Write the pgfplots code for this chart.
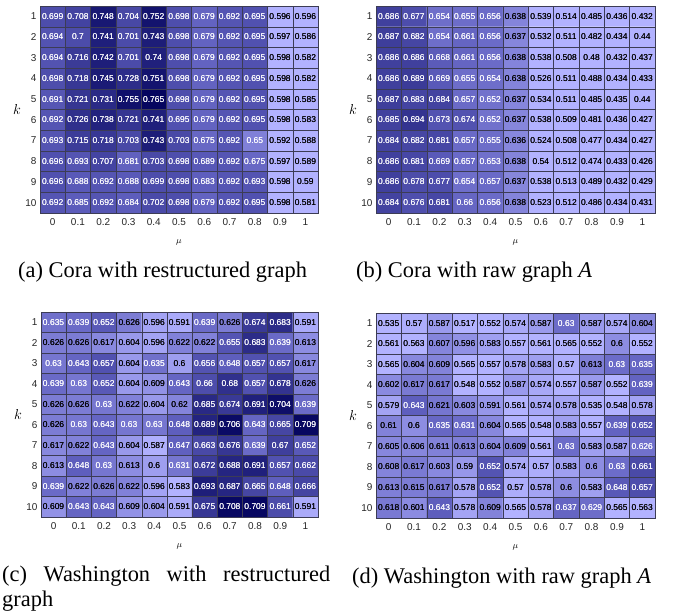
\documentclass[border=0pt]{standalone}
\usepackage{fontspec}
\setmainfont{Liberation Sans}
\newfontfamily\capfont{Liberation Serif}
\usepackage{pgfplots}
\usepackage{pgfplotstable}
\pgfplotsset{compat=1.18}
\definecolor{gridc}{RGB}{60,60,85}

% (a) Cora, restructured graph
\pgfplotstableread[row sep=\\]{x y c\\
0 1 0.699\\ 0.1 1 0.708\\ 0.2 1 0.748\\ 0.3 1 0.704\\ 0.4 1 0.752\\ 0.5 1 0.698\\ 0.6 1 0.679\\ 0.7 1 0.692\\ 0.8 1 0.695\\ 0.9 1 0.596\\ 1 1 0.596\\
0 2 0.694\\ 0.1 2 0.7\\ 0.2 2 0.741\\ 0.3 2 0.701\\ 0.4 2 0.743\\ 0.5 2 0.698\\ 0.6 2 0.679\\ 0.7 2 0.692\\ 0.8 2 0.695\\ 0.9 2 0.597\\ 1 2 0.586\\
0 3 0.694\\ 0.1 3 0.716\\ 0.2 3 0.742\\ 0.3 3 0.701\\ 0.4 3 0.74\\ 0.5 3 0.698\\ 0.6 3 0.679\\ 0.7 3 0.692\\ 0.8 3 0.695\\ 0.9 3 0.598\\ 1 3 0.582\\
0 4 0.698\\ 0.1 4 0.718\\ 0.2 4 0.745\\ 0.3 4 0.728\\ 0.4 4 0.751\\ 0.5 4 0.698\\ 0.6 4 0.679\\ 0.7 4 0.692\\ 0.8 4 0.695\\ 0.9 4 0.598\\ 1 4 0.582\\
0 5 0.691\\ 0.1 5 0.721\\ 0.2 5 0.731\\ 0.3 5 0.755\\ 0.4 5 0.765\\ 0.5 5 0.698\\ 0.6 5 0.679\\ 0.7 5 0.692\\ 0.8 5 0.695\\ 0.9 5 0.598\\ 1 5 0.585\\
0 6 0.692\\ 0.1 6 0.726\\ 0.2 6 0.738\\ 0.3 6 0.721\\ 0.4 6 0.741\\ 0.5 6 0.695\\ 0.6 6 0.679\\ 0.7 6 0.692\\ 0.8 6 0.695\\ 0.9 6 0.598\\ 1 6 0.583\\
0 7 0.693\\ 0.1 7 0.715\\ 0.2 7 0.718\\ 0.3 7 0.703\\ 0.4 7 0.743\\ 0.5 7 0.703\\ 0.6 7 0.675\\ 0.7 7 0.692\\ 0.8 7 0.65\\ 0.9 7 0.592\\ 1 7 0.588\\
0 8 0.696\\ 0.1 8 0.693\\ 0.2 8 0.707\\ 0.3 8 0.681\\ 0.4 8 0.703\\ 0.5 8 0.698\\ 0.6 8 0.689\\ 0.7 8 0.692\\ 0.8 8 0.675\\ 0.9 8 0.597\\ 1 8 0.589\\
0 9 0.696\\ 0.1 9 0.688\\ 0.2 9 0.692\\ 0.3 9 0.688\\ 0.4 9 0.699\\ 0.5 9 0.698\\ 0.6 9 0.683\\ 0.7 9 0.692\\ 0.8 9 0.693\\ 0.9 9 0.598\\ 1 9 0.59\\
0 10 0.692\\ 0.1 10 0.685\\ 0.2 10 0.692\\ 0.3 10 0.684\\ 0.4 10 0.702\\ 0.5 10 0.698\\ 0.6 10 0.679\\ 0.7 10 0.692\\ 0.8 10 0.695\\ 0.9 10 0.598\\ 1 10 0.581\\
}\tabA

% (b) Cora, raw graph A
\pgfplotstableread[row sep=\\]{x y c\\
0 1 0.686\\ 0.1 1 0.677\\ 0.2 1 0.654\\ 0.3 1 0.655\\ 0.4 1 0.656\\ 0.5 1 0.638\\ 0.6 1 0.539\\ 0.7 1 0.514\\ 0.8 1 0.485\\ 0.9 1 0.436\\ 1 1 0.432\\
0 2 0.687\\ 0.1 2 0.682\\ 0.2 2 0.654\\ 0.3 2 0.661\\ 0.4 2 0.656\\ 0.5 2 0.637\\ 0.6 2 0.532\\ 0.7 2 0.511\\ 0.8 2 0.482\\ 0.9 2 0.434\\ 1 2 0.44\\
0 3 0.686\\ 0.1 3 0.686\\ 0.2 3 0.668\\ 0.3 3 0.661\\ 0.4 3 0.656\\ 0.5 3 0.638\\ 0.6 3 0.538\\ 0.7 3 0.508\\ 0.8 3 0.48\\ 0.9 3 0.432\\ 1 3 0.437\\
0 4 0.686\\ 0.1 4 0.689\\ 0.2 4 0.669\\ 0.3 4 0.655\\ 0.4 4 0.654\\ 0.5 4 0.638\\ 0.6 4 0.526\\ 0.7 4 0.511\\ 0.8 4 0.488\\ 0.9 4 0.434\\ 1 4 0.433\\
0 5 0.687\\ 0.1 5 0.683\\ 0.2 5 0.684\\ 0.3 5 0.657\\ 0.4 5 0.652\\ 0.5 5 0.637\\ 0.6 5 0.534\\ 0.7 5 0.511\\ 0.8 5 0.485\\ 0.9 5 0.435\\ 1 5 0.44\\
0 6 0.685\\ 0.1 6 0.694\\ 0.2 6 0.673\\ 0.3 6 0.674\\ 0.4 6 0.652\\ 0.5 6 0.637\\ 0.6 6 0.538\\ 0.7 6 0.509\\ 0.8 6 0.481\\ 0.9 6 0.436\\ 1 6 0.427\\
0 7 0.684\\ 0.1 7 0.682\\ 0.2 7 0.681\\ 0.3 7 0.657\\ 0.4 7 0.655\\ 0.5 7 0.636\\ 0.6 7 0.524\\ 0.7 7 0.508\\ 0.8 7 0.477\\ 0.9 7 0.434\\ 1 7 0.427\\
0 8 0.686\\ 0.1 8 0.681\\ 0.2 8 0.669\\ 0.3 8 0.657\\ 0.4 8 0.653\\ 0.5 8 0.638\\ 0.6 8 0.54\\ 0.7 8 0.512\\ 0.8 8 0.474\\ 0.9 8 0.433\\ 1 8 0.426\\
0 9 0.686\\ 0.1 9 0.678\\ 0.2 9 0.677\\ 0.3 9 0.654\\ 0.4 9 0.657\\ 0.5 9 0.637\\ 0.6 9 0.538\\ 0.7 9 0.513\\ 0.8 9 0.489\\ 0.9 9 0.432\\ 1 9 0.429\\
0 10 0.684\\ 0.1 10 0.676\\ 0.2 10 0.681\\ 0.3 10 0.66\\ 0.4 10 0.656\\ 0.5 10 0.638\\ 0.6 10 0.523\\ 0.7 10 0.512\\ 0.8 10 0.486\\ 0.9 10 0.434\\ 1 10 0.431\\
}\tabB

% (c) Washington, restructured graph
\pgfplotstableread[row sep=\\]{x y c\\
0 1 0.635\\ 0.1 1 0.639\\ 0.2 1 0.652\\ 0.3 1 0.626\\ 0.4 1 0.596\\ 0.5 1 0.591\\ 0.6 1 0.639\\ 0.7 1 0.626\\ 0.8 1 0.674\\ 0.9 1 0.683\\ 1 1 0.591\\
0 2 0.626\\ 0.1 2 0.626\\ 0.2 2 0.617\\ 0.3 2 0.604\\ 0.4 2 0.596\\ 0.5 2 0.622\\ 0.6 2 0.622\\ 0.7 2 0.655\\ 0.8 2 0.683\\ 0.9 2 0.639\\ 1 2 0.613\\
0 3 0.63\\ 0.1 3 0.643\\ 0.2 3 0.657\\ 0.3 3 0.604\\ 0.4 3 0.635\\ 0.5 3 0.6\\ 0.6 3 0.656\\ 0.7 3 0.648\\ 0.8 3 0.657\\ 0.9 3 0.657\\ 1 3 0.617\\
0 4 0.639\\ 0.1 4 0.63\\ 0.2 4 0.652\\ 0.3 4 0.604\\ 0.4 4 0.609\\ 0.5 4 0.643\\ 0.6 4 0.66\\ 0.7 4 0.68\\ 0.8 4 0.657\\ 0.9 4 0.678\\ 1 4 0.626\\
0 5 0.626\\ 0.1 5 0.626\\ 0.2 5 0.63\\ 0.3 5 0.622\\ 0.4 5 0.604\\ 0.5 5 0.62\\ 0.6 5 0.685\\ 0.7 5 0.674\\ 0.8 5 0.691\\ 0.9 5 0.704\\ 1 5 0.639\\
0 6 0.626\\ 0.1 6 0.63\\ 0.2 6 0.643\\ 0.3 6 0.63\\ 0.4 6 0.63\\ 0.5 6 0.648\\ 0.6 6 0.689\\ 0.7 6 0.706\\ 0.8 6 0.643\\ 0.9 6 0.665\\ 1 6 0.709\\
0 7 0.617\\ 0.1 7 0.622\\ 0.2 7 0.643\\ 0.3 7 0.604\\ 0.4 7 0.587\\ 0.5 7 0.647\\ 0.6 7 0.663\\ 0.7 7 0.676\\ 0.8 7 0.639\\ 0.9 7 0.67\\ 1 7 0.652\\
0 8 0.613\\ 0.1 8 0.648\\ 0.2 8 0.63\\ 0.3 8 0.613\\ 0.4 8 0.6\\ 0.5 8 0.631\\ 0.6 8 0.672\\ 0.7 8 0.688\\ 0.8 8 0.691\\ 0.9 8 0.657\\ 1 8 0.662\\
0 9 0.639\\ 0.1 9 0.622\\ 0.2 9 0.626\\ 0.3 9 0.622\\ 0.4 9 0.596\\ 0.5 9 0.583\\ 0.6 9 0.693\\ 0.7 9 0.687\\ 0.8 9 0.665\\ 0.9 9 0.648\\ 1 9 0.666\\
0 10 0.609\\ 0.1 10 0.643\\ 0.2 10 0.643\\ 0.3 10 0.609\\ 0.4 10 0.604\\ 0.5 10 0.591\\ 0.6 10 0.675\\ 0.7 10 0.708\\ 0.8 10 0.709\\ 0.9 10 0.661\\ 1 10 0.591\\
}\tabC

% (d) Washington, raw graph A
\pgfplotstableread[row sep=\\]{x y c\\
0 1 0.535\\ 0.1 1 0.57\\ 0.2 1 0.587\\ 0.3 1 0.517\\ 0.4 1 0.552\\ 0.5 1 0.574\\ 0.6 1 0.587\\ 0.7 1 0.63\\ 0.8 1 0.587\\ 0.9 1 0.574\\ 1 1 0.604\\
0 2 0.561\\ 0.1 2 0.563\\ 0.2 2 0.607\\ 0.3 2 0.596\\ 0.4 2 0.583\\ 0.5 2 0.557\\ 0.6 2 0.561\\ 0.7 2 0.565\\ 0.8 2 0.552\\ 0.9 2 0.6\\ 1 2 0.552\\
0 3 0.565\\ 0.1 3 0.604\\ 0.2 3 0.609\\ 0.3 3 0.565\\ 0.4 3 0.557\\ 0.5 3 0.578\\ 0.6 3 0.583\\ 0.7 3 0.57\\ 0.8 3 0.613\\ 0.9 3 0.63\\ 1 3 0.635\\
0 4 0.602\\ 0.1 4 0.617\\ 0.2 4 0.617\\ 0.3 4 0.548\\ 0.4 4 0.552\\ 0.5 4 0.587\\ 0.6 4 0.574\\ 0.7 4 0.557\\ 0.8 4 0.587\\ 0.9 4 0.552\\ 1 4 0.639\\
0 5 0.579\\ 0.1 5 0.643\\ 0.2 5 0.621\\ 0.3 5 0.603\\ 0.4 5 0.591\\ 0.5 5 0.561\\ 0.6 5 0.574\\ 0.7 5 0.578\\ 0.8 5 0.535\\ 0.9 5 0.548\\ 1 5 0.578\\
0 6 0.61\\ 0.1 6 0.6\\ 0.2 6 0.635\\ 0.3 6 0.631\\ 0.4 6 0.604\\ 0.5 6 0.565\\ 0.6 6 0.548\\ 0.7 6 0.583\\ 0.8 6 0.557\\ 0.9 6 0.639\\ 1 6 0.652\\
0 7 0.605\\ 0.1 7 0.606\\ 0.2 7 0.611\\ 0.3 7 0.613\\ 0.4 7 0.604\\ 0.5 7 0.609\\ 0.6 7 0.561\\ 0.7 7 0.63\\ 0.8 7 0.583\\ 0.9 7 0.587\\ 1 7 0.626\\
0 8 0.608\\ 0.1 8 0.617\\ 0.2 8 0.603\\ 0.3 8 0.59\\ 0.4 8 0.652\\ 0.5 8 0.574\\ 0.6 8 0.57\\ 0.7 8 0.583\\ 0.8 8 0.6\\ 0.9 8 0.63\\ 1 8 0.661\\
0 9 0.613\\ 0.1 9 0.615\\ 0.2 9 0.617\\ 0.3 9 0.578\\ 0.4 9 0.652\\ 0.5 9 0.57\\ 0.6 9 0.578\\ 0.7 9 0.6\\ 0.8 9 0.583\\ 0.9 9 0.648\\ 1 9 0.657\\
0 10 0.618\\ 0.1 10 0.601\\ 0.2 10 0.643\\ 0.3 10 0.578\\ 0.4 10 0.609\\ 0.5 10 0.565\\ 0.6 10 0.578\\ 0.7 10 0.637\\ 0.8 10 0.629\\ 0.9 10 0.565\\ 1 10 0.563\\
}\tabD

\pgfplotsset{
  hm/.style={
    scale only axis, anchor=north west,
    xmin=-0.05, xmax=1.05, ymin=0.5, ymax=10.5, y dir=reverse,
    xtick={0,0.1,0.2,0.3,0.4,0.5,0.6,0.7,0.8,0.9,1},
    ytick={1,2,3,4,5,6,7,8,9,10},
    minor xtick={-0.05,0.05,0.15,0.25,0.35,0.45,0.55,0.65,0.75,0.85,0.95,1.05},
    minor ytick={0.5,1.5,2.5,3.5,4.5,5.5,6.5,7.5,8.5,9.5,10.5},
    xminorgrids, yminorgrids,
    minor grid style={draw=gridc, line width=0.4bp},
    major tick length=0pt, minor tick length=0pt,
    axis line style={draw=gridc, line width=0.4bp},
    axis on top,
    colormap={lav}{rgb255=(178,178,255) rgb255=(95,95,190) rgb255=(5,5,95)},
    /pgf/number format/assume math mode=true,
    ticklabel style={font=\fontsize{10}{12}\selectfont, text=black!85},
    xticklabel style={yshift=-2bp},
    xlabel={$\mu$}, ylabel={$k$},
    xlabel style={at={(axis description cs:0.5,0)}, anchor=center, yshift=-29bp, font=\fontsize{9}{10}\selectfont},
    ylabel style={at={(axis description cs:0,0.5)}, anchor=center, rotate=-90, xshift=-23bp, font=\fontsize{15}{16}\selectfont},
  },
  cells/.style={
    draw=none, mark=none, point meta=explicit,
    nodes near coords={\pgfmathfloattofixed{\pgfplotspointmeta}\let\cellv\pgfmathresult\pgfmathtruncatemacro\iswhite{\cellv>\thr}\ifnum\iswhite=1 \color{white}\fi\pgfmathprintnumber[fixed,precision=3]{\pgfplotspointmeta}},
    nodes near coords align=center,
    every node near coord/.append style={font=\fontsize{8.5}{9}\selectfont, inner sep=0pt, anchor=center},
  },
}

\begin{document}
\begin{tikzpicture}
\path[use as bounding box] (0,0) rectangle (683bp,-612bp);

\def\thr{0.64}
\begin{axis}[hm, at={(40bp,-6bp)}, width=278bp, height=207bp, point meta min=0.60, point meta max=0.765]
\addplot[matrix plot*, mesh/cols=11, point meta=explicit] table[meta=c]{\tabA};
\addplot[cells] table[meta=c]{\tabA};
\end{axis}

\def\thr{0.645}
\begin{axis}[hm, at={(376bp,-6bp)}, width=279bp, height=207bp, point meta min=0.605, point meta max=0.725]
\addplot[matrix plot*, mesh/cols=11, point meta=explicit] table[meta=c]{\tabB};
\addplot[cells] table[meta=c]{\tabB};
\end{axis}

\def\thr{0.628}
\begin{axis}[hm, at={(41bp,-312bp)}, width=277bp, height=205bp, point meta min=0.585, point meta max=0.71]
\addplot[matrix plot*, mesh/cols=11, point meta=explicit] table[meta=c]{\tabC};
\addplot[cells] table[meta=c]{\tabC};
\end{axis}

\def\thr{0.624}
\begin{axis}[hm, at={(376bp,-313bp)}, width=279bp, height=205bp, point meta min=0.565, point meta max=0.72]
\addplot[matrix plot*, mesh/cols=11, point meta=explicit] table[meta=c]{\tabD};
\addplot[cells] table[meta=c]{\tabD};
\end{axis}

\node[anchor=base west, inner sep=0, font=\capfont\fontsize{22.5}{24}\selectfont] at (18bp,-277bp) {(a) Cora with restructured graph};
\node[anchor=base west, inner sep=0, font=\capfont\fontsize{22.5}{24}\selectfont] at (356bp,-277bp) {(b) Cora with raw graph \textit{A}};
\node[anchor=north west, inner sep=0, text width=328bp, align=justify, font=\capfont\fontsize{22.5}{25}\selectfont] at (2bp,-566bp) {(c) Washington with restructured graph};
\node[anchor=base west, inner sep=0, font=\capfont\fontsize{22.5}{24}\selectfont] at (352bp,-583bp) {(d) Washington with raw graph \textit{A}};
\end{tikzpicture}
\end{document}
